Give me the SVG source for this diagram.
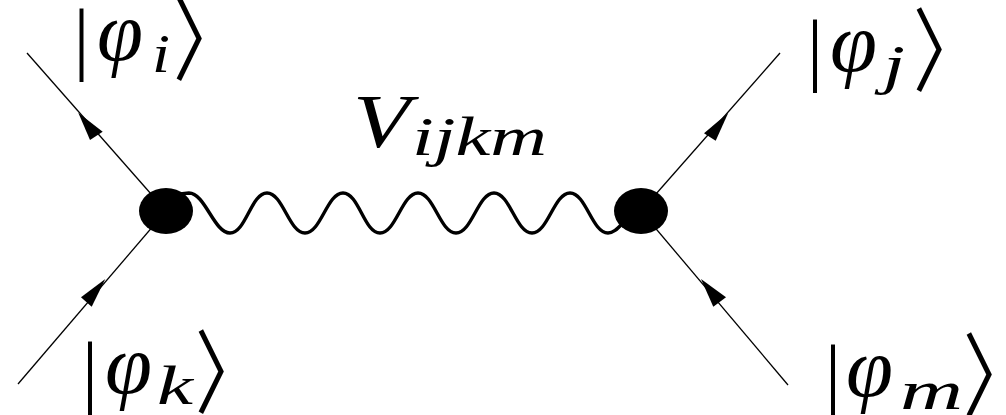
<svg xmlns="http://www.w3.org/2000/svg" width="1006" height="415" viewBox="0 0 1006 415">
<style>
.bg{fill:#fff}
.line{stroke:#000;stroke-width:1.3;fill:none}
.wave{stroke:#000;stroke-width:3.4;fill:none;stroke-linejoin:round}
.arrow{fill:#000}
.vertex{fill:#000}
.lbl{font-family:"Liberation Serif","DejaVu Serif",serif;fill:#000;text-anchor:middle}
.bar{font-size:80px}
.phi{font-style:italic;font-size:84px}
.sub{font-style:italic;font-size:54px}
.br{font-family:"Noto Sans CJK JP","DejaVu Sans",sans-serif;font-size:91px;fill:#000;text-anchor:start}
.V{font-style:italic;font-size:76px}
</style>
<rect class="bg" width="1006" height="415"/>
<g id="connectors">
<line class="line" x1="27" y1="53" x2="166" y2="211"/>
<line class="line" x1="18" y1="384" x2="166" y2="211"/>
<line class="line" x1="780" y1="53" x2="641" y2="211"/>
<line class="line" x1="788" y1="385" x2="641" y2="211"/>
<polygon class="arrow" points="78.3,112.7 90,140 102.7,131.7"/>
<polygon class="arrow" points="105.3,279 81,297.3 91.7,306.7"/>
<polygon class="arrow" points="728.3,112.7 704,133.3 715.7,140.7"/>
<polygon class="arrow" points="701,279 713.3,306.7 726,297.3"/>
<path class="wave" d="M180,194 L189,193 C205,193 214,233 230,233 C246,233 251,193 267,193 C283,193 289,233 305,233 C321,233 327,193 343,193 C359,193 364,233 380,233 C396,233 402,193 418,193 C434,193 440,233 456,233 C472,233 478,193 494,193 C510,193 516,233 532,233 C548,233 554,193 570,193 C586,193 592,233 608,233 C614,233 618,228 624,222"/>
</g>
<g id="vertex-left"><ellipse class="vertex" cx="166" cy="211" rx="27" ry="23"/></g>
<g id="vertex-right"><ellipse class="vertex" cx="641" cy="211" rx="27" ry="23"/></g>
<g id="label-i"><text class="lbl"><tspan class="bar" x="81.5" y="65">|</tspan><tspan class="phi" x="120" y="60" textLength="46" lengthAdjust="spacingAndGlyphs">φ</tspan><tspan class="sub" x="161" y="72" textLength="18" lengthAdjust="spacingAndGlyphs">i</tspan></text><text class="br" x="173" y="73" textLength="70" lengthAdjust="spacingAndGlyphs">〉</text></g>
<g id="label-j"><text class="lbl"><tspan class="bar" x="815" y="76">|</tspan><tspan class="phi" x="853.5" y="71" textLength="47" lengthAdjust="spacingAndGlyphs">φ</tspan><tspan class="sub" x="894" y="83" textLength="22" lengthAdjust="spacingAndGlyphs">j</tspan></text><text class="br" x="913" y="84" textLength="70" lengthAdjust="spacingAndGlyphs">〉</text></g>
<g id="label-k"><text class="lbl"><tspan class="bar" x="90" y="398">|</tspan><tspan class="phi" x="128.5" y="393" textLength="47" lengthAdjust="spacingAndGlyphs">φ</tspan><tspan class="sub" x="175" y="404" textLength="36" lengthAdjust="spacingAndGlyphs">k</tspan></text><text class="br" x="195" y="406" textLength="70" lengthAdjust="spacingAndGlyphs">〉</text></g>
<g id="label-m"><text class="lbl"><tspan class="bar" x="833" y="401">|</tspan><tspan class="phi" x="869.5" y="396" textLength="47" lengthAdjust="spacingAndGlyphs">φ</tspan><tspan class="sub" x="931.5" y="409" textLength="63" lengthAdjust="spacingAndGlyphs">m</tspan></text><text class="br" x="963" y="409" textLength="70" lengthAdjust="spacingAndGlyphs">〉</text></g>
<g id="label-V"><text class="lbl"><tspan class="V" x="381.5" y="147" textLength="57" lengthAdjust="spacingAndGlyphs">V</tspan><tspan class="sub" x="479.5" y="155" textLength="135" lengthAdjust="spacingAndGlyphs">ijkm</tspan></text></g>
</svg>
